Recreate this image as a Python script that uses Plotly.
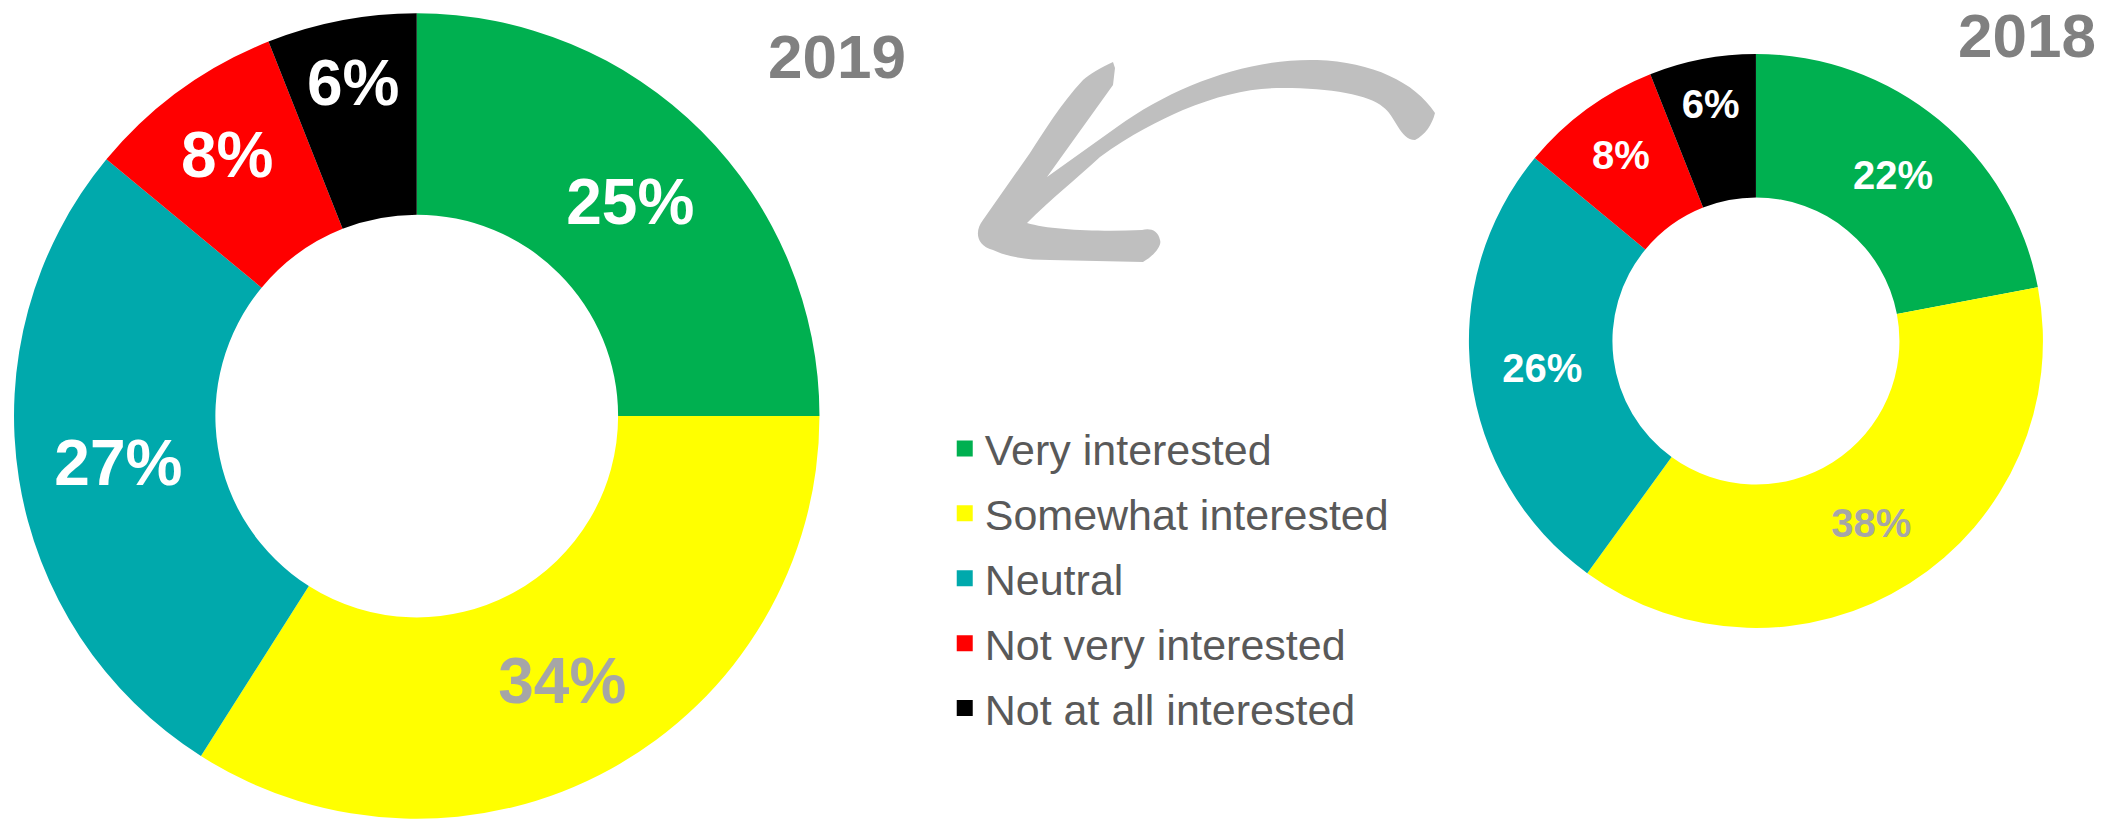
import plotly.graph_objects as go

categories = ["Very interested", "Somewhat interested", "Neutral", "Not very interested", "Not at all interested"]
values_2019 = [25, 34, 27, 8, 6]
values_2018 = [22, 38, 26, 8, 6]
colors = ["#00B050", "#FFFF00", "#00A9AC", "#FF0000", "#000000"]
label_colors = ["#FFFFFF", "#A6A6A6", "#FFFFFF", "#FFFFFF", "#FFFFFF"]
titles = ["2019", "2018"]

W, H = 2123, 819
FONT = "Liberation Sans, Arial, sans-serif"

fig = go.Figure()

def donut(vals, domain, size):
    return go.Pie(
        labels=categories, values=vals, hole=0.5, sort=False, direction="clockwise",
        rotation=0, domain=domain, showlegend=False,
        marker=dict(colors=colors, line=dict(width=0)),
        texttemplate="%{value}%", textposition="inside", insidetextorientation="horizontal",
        textfont=dict(family=FONT, size=size, color=label_colors, weight="bold"),
        hoverinfo="label+percent",
    )

fig.add_trace(donut(values_2019, dict(x=[0.0066, 0.386], y=[0.0, 0.984]), 64))
fig.add_trace(donut(values_2018, dict(x=[0.6919, 0.9623], y=[0.2332, 0.9341]), 40))

# legend entries
for cat, col in zip(categories, colors):
    fig.add_trace(go.Scatter(
        x=[None], y=[None], mode="markers", name=cat, legendgroup=cat,
        marker=dict(symbol="square", size=22, color=col), showlegend=True,
        hoverinfo="skip",
    ))

def P(x, y):
    return f"{x / W:.5f},{1 - y / H:.5f}"

pts = [
    ("M", [(1435, 113)]),
    ("C", [(1415, 82), (1372, 62), (1317, 60)]),
    ("C", [(1250, 58), (1175, 85), (1117, 127)]),
    ("L", [(1047, 177)]),
    ("L", [(1113, 85)]),
    ("L", [(1115, 68)]),
    ("L", [(1113, 62)]),
    ("C", [(1100, 68), (1090, 74), (1083, 80)]),
    ("C", [(1060, 105), (1045, 130), (1030, 153)]),
    ("L", [(983, 220)]),
    ("C", [(975, 230), (975, 245), (993, 250)]),
    ("C", [(1010, 258), (1030, 260), (1050, 260)]),
    ("L", [(1143, 262)]),
    ("C", [(1155, 255), (1162, 245), (1160, 240)]),
    ("C", [(1158, 230), (1150, 228), (1142, 230)]),
    ("C", [(1100, 232), (1050, 230), (1027, 223)]),
    ("C", [(1050, 200), (1075, 180), (1100, 157)]),
    ("C", [(1130, 135), (1160, 120), (1183, 110)]),
    ("C", [(1220, 95), (1250, 88), (1283, 88)]),
    ("C", [(1330, 88), (1370, 95), (1383, 107)]),
    ("C", [(1395, 115), (1400, 140), (1415, 140)]),
    ("C", [(1425, 135), (1432, 125), (1435, 113)]),
]
path = " ".join(cmd + " ".join(P(*p) for p in ps) for cmd, ps in pts) + " Z"

fig.add_shape(type="path", xref="paper", yref="paper", path=path,
              fillcolor="#BFBFBF", line=dict(width=0), layer="below")

fig.add_annotation(text=titles[0], x=837 / W, y=1 - 57 / H, xref="paper", yref="paper",
                   xanchor="center", yanchor="middle",
                   showarrow=False, font=dict(family=FONT, size=62, color="#808080", weight="bold"))
fig.add_annotation(text=titles[1], x=2027 / W, y=1 - 36 / H, xref="paper", yref="paper",
                   xanchor="center", yanchor="middle",
                   showarrow=False, font=dict(family=FONT, size=62, color="#808080", weight="bold"))

fig.update_layout(
    width=W, height=H, margin=dict(l=0, r=0, t=0, b=0),
    paper_bgcolor="white", plot_bgcolor="white",
    xaxis=dict(visible=False), yaxis=dict(visible=False),
    legend=dict(x=0.445, y=1 - 414 / H, xanchor="left", yanchor="top",
                font=dict(family=FONT, size=43, color="#595959"),
                traceorder="grouped", tracegroupgap=6, bgcolor="rgba(0,0,0,0)"),
)

fig.write_html("out.html")
